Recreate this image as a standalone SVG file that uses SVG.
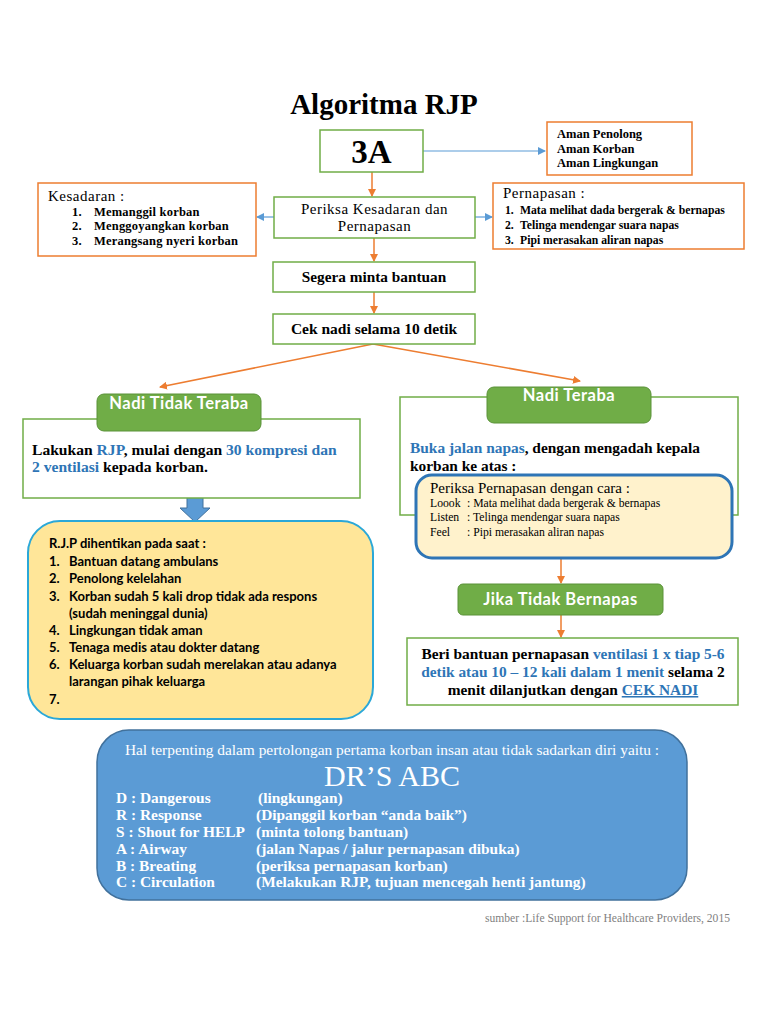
<svg xmlns="http://www.w3.org/2000/svg" width="768" height="1024" viewBox="0 0 768 1024">
<style>
.serif{font-family:"Liberation Serif","Times New Roman",serif}
.sans{font-family:Lato,"Liberation Sans",Arial,sans-serif}
.b{font-weight:bold}
.gbox{fill:#fff;stroke:#70AD47;stroke-width:1.5}
.obox{fill:#fff;stroke:#ED7D31;stroke-width:1.5}
.ghead{fill:#70AD47;stroke:#5A9238;stroke-width:1}
.hd{font-size:16.5px;letter-spacing:0.5px}
.blue{fill:#2E75B6}
.wht{fill:#fff}
.oline{stroke:#ED7D31;stroke-width:1.5;fill:none}
.bline{stroke:#5B9BD5;stroke-width:1.2;fill:none}
</style>
<defs>
<marker id="ao" markerWidth="8" markerHeight="8" refX="7" refY="4" orient="auto" markerUnits="userSpaceOnUse"><path d="M0,0 L8,4 L0,8 z" fill="#ED7D31"/></marker>
<marker id="ab" markerWidth="8" markerHeight="8" refX="7" refY="4" orient="auto" markerUnits="userSpaceOnUse"><path d="M0,0 L8,4 L0,8 z" fill="#5B9BD5"/></marker>
</defs>
<rect width="768" height="1024" fill="#fff"/>

<text x="384" y="114" text-anchor="middle" class="serif b" font-size="29">Algoritma RJP</text>

<g id="connectors">
<line x1="423" y1="151" x2="545" y2="151" class="bline" marker-end="url(#ab)"/>
<line x1="372" y1="172" x2="372" y2="196" class="oline" marker-end="url(#ao)"/>
<line x1="274" y1="217" x2="257" y2="217" class="bline" marker-end="url(#ab)"/>
<line x1="475" y1="217" x2="492" y2="217" class="bline" marker-end="url(#ab)"/>
<line x1="374" y1="238" x2="374" y2="261" class="oline" marker-end="url(#ao)"/>
<line x1="374" y1="292" x2="374" y2="313" class="oline" marker-end="url(#ao)"/>
<line x1="373" y1="344" x2="160" y2="387" class="oline" marker-end="url(#ao)"/>
<line x1="373" y1="344" x2="580" y2="381" class="oline" marker-end="url(#ao)"/>
<line x1="561" y1="558" x2="561" y2="583" class="oline" marker-end="url(#ao)"/>
<line x1="561" y1="615" x2="561" y2="637" class="oline" marker-end="url(#ao)"/>
<path d="M187,495 H203 V508 H210 L195,522 L180,508 H187 Z" fill="#5B9BD5" stroke="#41719C" stroke-width="1"/>
</g>

<g id="n3a">
<rect x="320" y="130" width="103" height="42" class="gbox"/>
<text x="371.5" y="163" text-anchor="middle" class="serif b" font-size="33">3A</text>
</g>

<g id="naman">
<rect x="547" y="122" width="145" height="53" class="obox"/>
<text class="serif b" font-size="12.5"><tspan x="557" y="138">Aman Penolong</tspan><tspan x="557" y="153">Aman Korban</tspan><tspan x="557" y="167">Aman Lingkungan</tspan></text>
</g>

<g id="nperiksa">
<rect x="274" y="197" width="201" height="41" class="gbox"/>
<text text-anchor="middle" class="serif" font-size="15" letter-spacing="0.5"><tspan x="374.5" y="214">Periksa Kesadaran dan</tspan><tspan x="374.5" y="231">Pernapasan</tspan></text>
</g>

<g id="nkesadaran">
<rect x="38" y="183" width="218" height="73" class="obox"/>
<text x="48" y="201" class="serif" font-size="15" letter-spacing="0.5">Kesadaran :</text>
<text class="serif b" font-size="12.5" letter-spacing="0.2"><tspan x="72" y="216">1.</tspan><tspan x="94" y="216">Memanggil korban</tspan><tspan x="72" y="230">2.</tspan><tspan x="94" y="230">Menggoyangkan korban</tspan><tspan x="72" y="245">3.</tspan><tspan x="94" y="245">Merangsang nyeri korban</tspan></text>
</g>

<g id="npernapasan">
<rect x="493" y="183" width="251" height="66" class="obox"/>
<text x="503" y="198" class="serif" font-size="15" letter-spacing="0.5">Pernapasan :</text>
<text class="serif b" font-size="11.7"><tspan x="505" y="214">1.</tspan><tspan x="520" y="214">Mata melihat dada bergerak &amp; bernapas</tspan><tspan x="505" y="229">2.</tspan><tspan x="520" y="229">Telinga mendengar suara napas</tspan><tspan x="505" y="244">3.</tspan><tspan x="520" y="244">Pipi merasakan aliran napas</tspan></text>
</g>

<g id="nsegera">
<rect x="273" y="262" width="202" height="30" class="gbox"/>
<text x="374" y="282" text-anchor="middle" class="serif b" font-size="15.3">Segera minta bantuan</text>
</g>

<g id="ncek">
<rect x="273" y="314" width="202" height="30" class="gbox"/>
<text x="374" y="334" text-anchor="middle" class="serif b" font-size="15.5">Cek nadi selama 10 detik</text>
</g>

<g id="ntidakteraba">
<rect x="23" y="419" width="337" height="79" class="gbox"/>
<rect x="97" y="394" width="164" height="37" rx="7" class="ghead"/>
<text x="179" y="409" text-anchor="middle" class="sans b wht hd">Nadi Tidak Teraba</text>
<text class="serif b" font-size="15.6"><tspan x="32" y="455">Lakukan <tspan class="blue">RJP</tspan>, mulai dengan  <tspan class="blue">30 kompresi dan</tspan></tspan><tspan x="32" y="472"><tspan class="blue">2 ventilasi</tspan> kepada korban.</tspan></text>
</g>

<g id="nrjpstop">
<rect x="28" y="521" width="345" height="198" rx="32" fill="#FFE699" stroke="#2BA8D8" stroke-width="2"/>
<text class="sans b" font-size="13"><tspan x="49" y="548">R.J.P dihentikan pada saat :</tspan>
<tspan x="49" y="566">1.</tspan><tspan x="69" y="566">Bantuan datang ambulans</tspan>
<tspan x="49" y="583">2.</tspan><tspan x="69" y="583">Penolong kelelahan</tspan>
<tspan x="49" y="601">3.</tspan><tspan x="69" y="601">Korban sudah 5 kali drop tidak ada respons</tspan>
<tspan x="69" y="618">(sudah meninggal dunia)</tspan>
<tspan x="49" y="635">4.</tspan><tspan x="69" y="635">Lingkungan tidak aman</tspan>
<tspan x="49" y="652">5.</tspan><tspan x="69" y="652">Tenaga medis atau dokter datang</tspan>
<tspan x="49" y="669">6.</tspan><tspan x="69" y="669">Keluarga korban sudah merelakan atau adanya</tspan>
<tspan x="69" y="686">larangan pihak keluarga</tspan>
<tspan x="49" y="704">7.</tspan></text>
</g>

<g id="nteraba">
<rect x="400" y="397" width="338" height="118" class="gbox"/>
<rect x="487" y="387" width="164" height="36" rx="7" class="ghead"/>
<text x="569" y="401" text-anchor="middle" class="sans b wht hd">Nadi Teraba</text>
<text class="serif b" font-size="15.4"><tspan x="410" y="453"><tspan class="blue">Buka jalan napas</tspan>, dengan mengadah kepala</tspan><tspan x="410" y="471">korban ke atas :</tspan></text>
</g>

<g id="ncara">
<rect x="416" y="475" width="316" height="83" rx="16" fill="#FFF2CC" stroke="#2E75B6" stroke-width="3"/>
<text x="430" y="493" class="serif" font-size="15">Periksa Pernapasan dengan cara :</text>
<text class="serif" font-size="11.7"><tspan x="430" y="507">Loook</tspan><tspan x="467" y="507">: Mata melihat dada bergerak &amp; bernapas</tspan><tspan x="430" y="521">Listen</tspan><tspan x="467" y="521">: Telinga mendengar suara napas</tspan><tspan x="430" y="536">Feel</tspan><tspan x="467" y="536">: Pipi merasakan aliran napas</tspan></text>
</g>

<g id="njika">
<rect x="458" y="584" width="205" height="31" rx="5" class="ghead"/>
<text x="560.5" y="605" text-anchor="middle" class="sans b wht hd">Jika Tidak Bernapas</text>
</g>

<g id="nberi">
<rect x="407" y="638" width="331" height="67" class="gbox"/>
<text text-anchor="middle" class="serif b" font-size="15.4"><tspan x="573" y="659">Beri bantuan pernapasan <tspan class="blue">ventilasi 1 x tiap 5-6</tspan></tspan><tspan x="573" y="677"><tspan class="blue">detik atau 10 – 12 kali dalam 1 menit</tspan> selama 2</tspan><tspan x="573" y="695">menit dilanjutkan dengan <tspan class="blue" text-decoration="underline">CEK NADI</tspan></tspan></text>
</g>

<g id="ndrsabc">
<rect x="97" y="730" width="590" height="170" rx="32" fill="#5B9BD5" stroke="#41719C" stroke-width="1.5"/>
<text x="392" y="755" text-anchor="middle" class="serif wht" font-size="15.4">Hal terpenting dalam pertolongan pertama korban insan atau tidak sadarkan diri yaitu :</text>
<text x="392" y="786" text-anchor="middle" class="serif wht" font-size="30">DR’S ABC</text>
<text class="serif b wht" font-size="15.4"><tspan x="116" y="803">D : Dangerous</tspan><tspan x="258" y="803">(lingkungan)</tspan>
<tspan x="116" y="820">R : Response</tspan><tspan x="256" y="820">(Dipanggil korban “anda baik”)</tspan>
<tspan x="116" y="837">S  : Shout for HELP</tspan><tspan x="256" y="837">(minta tolong bantuan)</tspan>
<tspan x="116" y="854">A : Airway</tspan><tspan x="256" y="854">(jalan Napas / jalur pernapasan dibuka)</tspan>
<tspan x="116" y="871">B : Breating</tspan><tspan x="256" y="871">(periksa pernapasan korban)</tspan>
<tspan x="116" y="887">C : Circulation</tspan><tspan x="256" y="887">(Melakukan RJP, tujuan mencegah henti jantung)</tspan></text>
</g>

<text x="730" y="922" text-anchor="end" class="serif" font-size="11.6" fill="#7F7F7F">sumber :Life Support for Healthcare Providers, 2015</text>
</svg>
